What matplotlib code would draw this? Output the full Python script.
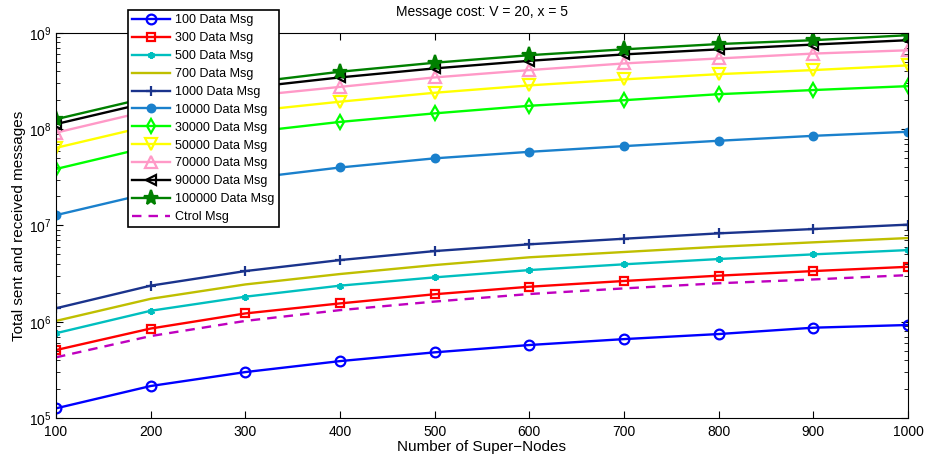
import matplotlib
matplotlib.use("Agg")
import matplotlib.pyplot as plt

plt.rcParams['font.family'] = ['Liberation Sans', 'DejaVu Sans']
plt.rcParams['mathtext.fontset'] = 'custom'
plt.rcParams['mathtext.rm'] = 'Liberation Sans'

# Number of super-nodes
nodes = [100, 200, 300, 400, 500, 600, 700, 800, 900, 1000]

# Total sent and received messages per series
msg_100 = [1.26e5, 2.15e5, 3.0e5, 3.9e5, 4.81e5, 5.73e5, 6.6e5, 7.45e5, 8.67e5, 9.25e5]
msg_300 = [5.08e5, 8.5e5, 1.22e6, 1.55e6, 1.93e6, 2.31e6, 2.65e6, 3.01e6, 3.36e6, 3.72e6]
msg_500 = [7.6e5, 1.3e6, 1.82e6, 2.37e6, 2.89e6, 3.44e6, 3.95e6, 4.48e6, 5.01e6, 5.55e6]
msg_700 = [1.02e6, 1.73e6, 2.44e6, 3.13e6, 3.88e6, 4.67e6, 5.3e6, 6.01e6, 6.68e6, 7.4e6]
msg_1000 = [1.38e6, 2.37e6, 3.36e6, 4.37e6, 5.42e6, 6.37e6, 7.28e6, 8.28e6, 9.18e6, 1.02e7]
msg_10000 = [1.28e7, 2.18e7, 3.05e7, 4.0e7, 4.98e7, 5.82e7, 6.67e7, 7.58e7, 8.53e7, 9.4e7]
msg_30000 = [3.86e7, 6.6e7, 9.2e7, 1.19e8, 1.46e8, 1.75e8, 2.0e8, 2.31e8, 2.55e8, 2.8e8]
msg_50000 = [6.4e7, 1.09e8, 1.52e8, 1.93e8, 2.39e8, 2.85e8, 3.29e8, 3.73e8, 4.11e8, 4.6e8]
msg_70000 = [9.2e7, 1.57e8, 2.19e8, 2.75e8, 3.45e8, 4.11e8, 4.82e8, 5.43e8, 6.1e8, 6.6e8]
msg_90000 = [1.13e8, 1.92e8, 2.68e8, 3.45e8, 4.28e8, 5.13e8, 5.98e8, 6.75e8, 7.57e8, 8.4e8]
msg_100000 = [1.27e8, 2.16e8, 3.01e8, 3.95e8, 4.9e8, 5.87e8, 6.75e8, 7.66e8, 8.4e8, 9.47e8]
ctrl_msg = [4.27e5, 7.1e5, 1.02e6, 1.32e6, 1.62e6, 1.94e6, 2.22e6, 2.51e6, 2.75e6, 3.05e6]

labels = ["100 Data Msg", "300 Data Msg", "500 Data Msg", "700 Data Msg",
          "1000 Data Msg", "10000 Data Msg", "30000 Data Msg", "50000 Data Msg",
          "70000 Data Msg", "90000 Data Msg", "100000 Data Msg", "Ctrol Msg"]

fig = plt.figure(figsize=(9.26, 4.59), dpi=100)
ax = fig.add_axes([0.0605, 0.0893, 0.920, 0.839])

lw = 1.7
# (data, colour, marker, marker size, filled)
styles = [
    (msg_100, (0, 0, 1), 'o', 7, False),
    (msg_300, (1, 0, 0), 's', 6, False),
    (msg_500, (0, 0.75, 0.75), (6, 2, 0), 5, False),
    (msg_700, (0.75, 0.75, 0), None, 0, False),
    (msg_1000, (0.1, 0.2, 0.55), '+', 7, False),
    (msg_10000, (0.1, 0.5, 0.8), '.', 11, True),
    (msg_30000, (0, 1, 0), 'd', 7, False),
    (msg_50000, (1, 1, 0), 'v', 8, False),
    (msg_70000, (1, 0.6, 0.78), '^', 8, False),
    (msg_90000, (0, 0, 0), '<', 7, False),
    (msg_100000, (0, 0.5, 0), '*', 11, True),
]

for (vals, col, mk, ms, filled), lab in zip(styles, labels):
    ax.plot(nodes, vals, color=col, lw=lw, marker=mk, ms=ms,
            mfc=col if filled else 'none', mec=col, mew=1.6, label=lab)

ax.plot(nodes, ctrl_msg, color=(0.75, 0, 0.75), lw=lw, ls=(0, (4, 3)),
        label=labels[-1])

ax.set_yscale('log')
ax.set_xlim(100, 1000)
ax.set_ylim(1e5, 1e9)
ax.set_xticks(nodes)
ax.tick_params(which='both', direction='in', top=True, right=True, labelsize=10)
ax.tick_params(which='major', length=5)
ax.tick_params(which='minor', length=3)
ax.tick_params(axis='x', pad=5)

ax.set_title("Message cost: V = 20, x = 5", fontsize=10, pad=12)
ax.set_xlabel("Number of Super−Nodes", fontsize=11, labelpad=1)
ax.set_ylabel("Total sent and received messages", fontsize=11, labelpad=2)

leg = ax.legend(loc='upper left', bbox_to_anchor=(0.138, 0.978),
                bbox_transform=fig.transFigure, borderaxespad=0, fontsize=9,
                handlelength=3.0, labelspacing=0.47, borderpad=0.35,
                handletextpad=0.45, fancybox=False, framealpha=1,
                edgecolor='black')
leg.get_frame().set_linewidth(1.2)

fig.savefig("out.png", dpi=100)
